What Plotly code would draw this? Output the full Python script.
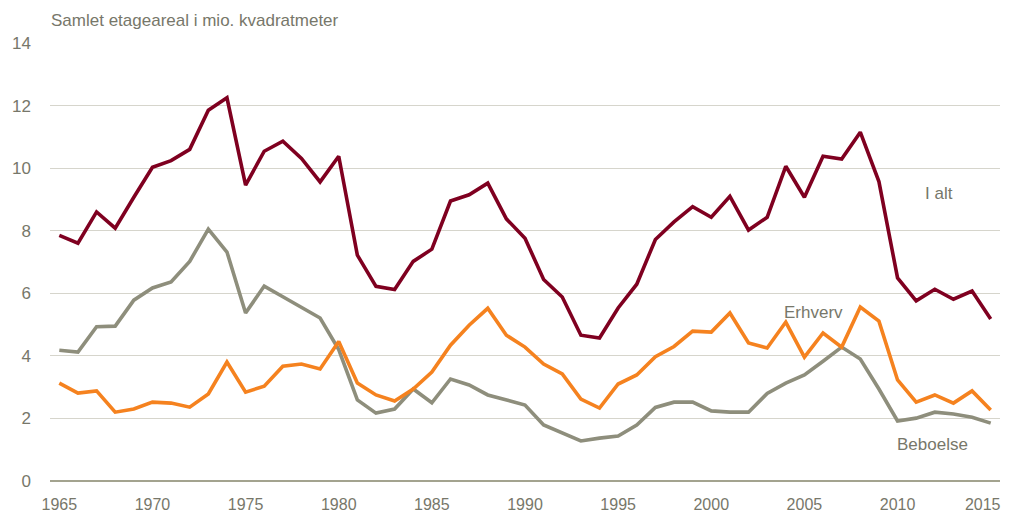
import plotly.graph_objects as go

years = list(range(1965, 2016))

i_alt = [7.85, 7.6, 8.6, 8.08, 9.07, 10.03, 10.24, 10.6, 11.85, 12.25,
         9.46, 10.54, 10.86, 10.31, 9.56, 10.38, 7.22, 6.22, 6.12, 7.02,
         7.41, 8.95, 9.15, 9.52, 8.38, 7.76, 6.44, 5.88, 4.66, 4.57,
         5.53, 6.29, 7.72, 8.28, 8.77, 8.43, 9.1, 8.02, 8.43, 10.06,
         9.07, 10.38, 10.29, 11.15, 9.57, 6.49, 5.76, 6.13, 5.81, 6.07,
         5.18]

erhverv = [3.13, 2.81, 2.88, 2.2, 2.3, 2.52, 2.49, 2.36, 2.78, 3.8,
           2.84, 3.03, 3.67, 3.74, 3.58, 4.46, 3.13, 2.75, 2.56, 2.94,
           3.48, 4.34, 4.98, 5.52, 4.66, 4.28, 3.74, 3.42, 2.62, 2.33,
           3.1, 3.39, 3.97, 4.3, 4.79, 4.76, 5.37, 4.41, 4.25, 5.08,
           3.96, 4.73, 4.28, 5.56, 5.11, 3.23, 2.52, 2.75, 2.49, 2.88,
           2.27]

beboelse = [4.18, 4.12, 4.93, 4.95, 5.78, 6.17, 6.36, 7.02, 8.05, 7.32,
            5.37, 6.23, 5.89, 5.56, 5.21, 4.2, 2.59, 2.17, 2.3, 2.94,
            2.5, 3.26, 3.07, 2.75, 2.59, 2.43, 1.79, 1.53, 1.28, 1.37,
            1.44, 1.79, 2.35, 2.52, 2.52, 2.24, 2.2, 2.2, 2.8, 3.13,
            3.39, 3.83, 4.28, 3.9, 2.94, 1.92, 2.01, 2.2, 2.14, 2.04,
            1.85]

x_ticks = [1965, 1970, 1975, 1980, 1985, 1990, 1995, 2000, 2005, 2010]
x_tick_last = [2015]
y_ticks = [0, 2, 4, 6, 8, 10, 12, 14]

title_text = "Samlet etageareal i mio. kvadratmeter"
series_labels = [("I alt", 2012.2, 9.2), ("Erhverv", 2005.5, 5.4), ("Beboelse", 2011.9, 1.18)]

TXT = "#77776A"
FONT = "Liberation Sans, Arial, sans-serif"
X_RANGE = [1964.5, 2015.5]

fig = go.Figure()
fig.add_trace(go.Scatter(x=years, y=beboelse, mode="lines", name="Beboelse",
                         line=dict(color="#8E8E7C", width=3.6)))
fig.add_trace(go.Scatter(x=years, y=erhverv, mode="lines", name="Erhverv",
                         line=dict(color="#F5821F", width=3.6)))
fig.add_trace(go.Scatter(x=years, y=i_alt, mode="lines", name="I alt",
                         line=dict(color="#7F0020", width=3.6)))
# empty trace so the overlay axis carrying the last year label is drawn
fig.add_trace(go.Scatter(x=[], y=[], xaxis="x2", yaxis="y", showlegend=False,
                         hoverinfo="skip"))

for txt, xx, yy in series_labels:
    fig.add_annotation(x=xx, y=yy, text=txt, showarrow=False,
                       font=dict(family=FONT, size=17, color=TXT))

fig.add_annotation(xref="paper", yref="paper", x=-0.001, y=1.0525, text=title_text,
                   showarrow=False, xanchor="left", yanchor="middle",
                   font=dict(family=FONT, size=17, color=TXT))

common_x = dict(range=X_RANGE, showgrid=False, zeroline=False, showline=False,
                ticks="", automargin=False, ticklabelstandoff=12,
                ticklabeloverflow="allow",
                tickfont=dict(family=FONT, size=16, color=TXT))

# the page body has an 8px default margin, so the figure is sized/offset to compensate
fig.update_layout(
    width=1002, height=507,
    margin=dict(l=42, r=10, t=35, b=34),
    paper_bgcolor="white", plot_bgcolor="white",
    showlegend=False,
    font=dict(family=FONT, size=17, color=TXT),
    xaxis=dict(tickvals=x_ticks, **common_x),
    xaxis2=dict(tickvals=x_tick_last, overlaying="x", anchor="y", side="bottom",
                ticklabelshift=-8, **common_x),
    yaxis=dict(range=[0, 14], tickvals=y_ticks, showgrid=True,
               gridcolor="#D6D5CC", gridwidth=1.3, zeroline=True,
               zerolinecolor="#A3A38F", zerolinewidth=1.5, showline=False,
               ticks="", ticklabelstandoff=18, automargin=False,
               tickfont=dict(family=FONT, size=17, color=TXT)),
)

fig.write_html("out.html")
